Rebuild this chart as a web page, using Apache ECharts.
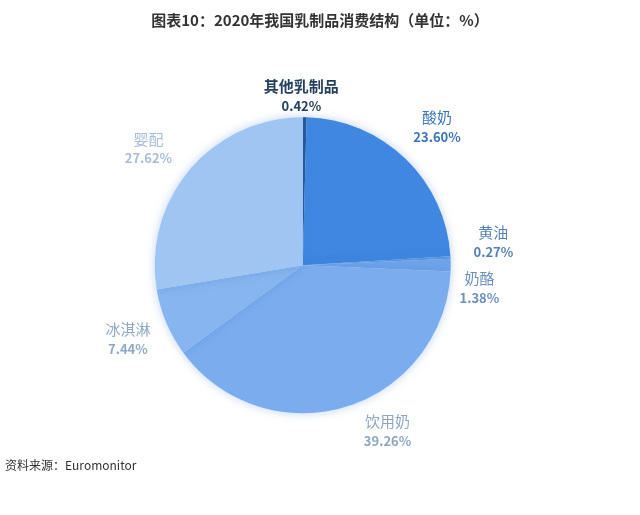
<!DOCTYPE html>
<html>
<head>
    <meta charset="utf-8">
    <title>2020年我国乳制品消费结构</title>
    <script src="https://cdn.jsdelivr.net/npm/echarts@6/dist/echarts.min.js"></script>
    <style>
        body { margin: 0; background: #fff; }
        #main { width: 640px; height: 515px; }
    </style>
</head>
<body>
<div id="main"></div>
<script>
    // 数据
    var names = ['其他乳制品', '酸奶', '黄油', '奶酪', '饮用奶', '冰淇淋', '婴配'];
    var values = [0.42, 23.60, 0.27, 1.38, 39.26, 7.44, 27.62];
    var sliceColors = ['#1d4f8f', '#3f87e0', '#5b97e6', '#6fa4ea', '#7badee', '#87b5ef', '#9fc5f3'];
    var labelColors = ['#24405f', '#3b74b6', '#5580b2', '#6b90bb', '#8ea6c4', '#8fa8c4', '#a8bed6'];
    // 标签微调（像素偏移）
    var labelShift = [[-50, -7], [-6, -22], [5, -15], [-7, -4], [5, 11], [6, 11], [2, -12]];

    var myChart = echarts.init(document.getElementById('main'));

    var pieData = names.map(function (n, i) {
        return {
            name: n,
            value: values[i],
            itemStyle: { color: sliceColors[i] },
            label: {
                rich: {
                    n: { fontSize: 15, color: labelColors[i], fontWeight: i === 0 ? 'bold' : 'normal', lineHeight: 20, align: 'center' },
                    p: { fontSize: 13, color: labelColors[i], fontWeight: 'bold', lineHeight: 19, align: 'center' }
                }
            }
        };
    });

    var option = {
        animation: false,
        title: {
            text: '图表10：2020年我国乳制品消费结构（单位：%）',
            left: 'center',
            top: 8,
            textStyle: { fontSize: 15, fontWeight: 'bold', color: '#333', fontFamily: 'Noto Sans CJK SC' }
        },
        graphic: [{
            type: 'text',
            left: 5,
            top: 459,
            style: { text: '资料来源：Euromonitor', fontSize: 12, fill: '#333', fontFamily: 'Noto Sans CJK SC' }
        }],
        series: [{
            type: 'pie',
            center: ['47.3%', '51.5%'],
            radius: 148,
            startAngle: 90,
            clockwise: true,
            avoidLabelOverlap: true,
            itemStyle: { shadowBlur: 10, shadowColor: 'rgba(70,130,210,0.35)' },
            label: {
                show: true,
                position: 'outside',
                fontFamily: 'Noto Sans CJK SC',
                formatter: function (p) {
                    return '{n|' + p.name + '}\n{p|' + p.value.toFixed(2) + '%}';
                }
            },
            labelLine: { show: false, length: 14, length2: 4 },
            labelLayout: function (params) {
                var s = labelShift[params.dataIndex];
                return { dx: s[0], dy: s[1] };
            },
            data: pieData
        }]
    };

    myChart.setOption(option);
</script>
</body>
</html>
